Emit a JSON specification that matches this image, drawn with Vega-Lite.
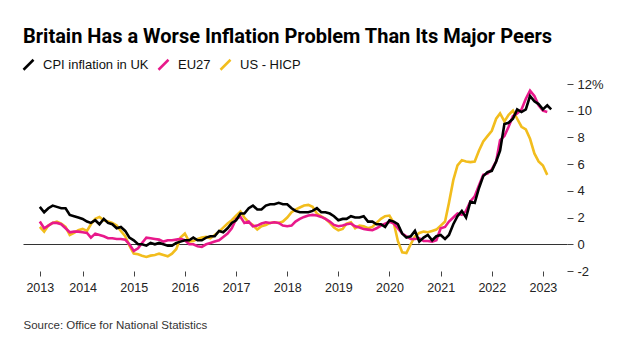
{
  "$schema": "https://vega.github.io/schema/vega-lite/v6.json",
  "width": 544,
  "height": 187,
  "autosize": {"type": "none"},
  "padding": {"left": 23, "top": 84, "right": 56, "bottom": 89},
  "background": "#ffffff",
  "title": {
    "text": "Britain Has a Worse Inflation Problem Than Its Major Peers",
    "anchor": "start",
    "frame": "group",
    "font": "Roboto",
    "fontSize": 20,
    "fontWeight": "bold",
    "color": "#000000",
    "offset": 11
  },
  "config": {
    "view": {"stroke": null},
    "font": "Liberation Sans"
  },
  "data": {
    "values": [
      {"month":"2013-03","series":"US","value":1.3},{"month":"2013-04","series":"US","value":0.95},{"month":"2013-05","series":"US","value":1.4},{"month":"2013-06","series":"US","value":1.6},{"month":"2013-07","series":"US","value":1.7},{"month":"2013-08","series":"US","value":1.55},{"month":"2013-09","series":"US","value":1.3},{"month":"2013-10","series":"US","value":0.7},{"month":"2013-11","series":"US","value":0.85},{"month":"2013-12","series":"US","value":1.05},
      {"month":"2014-01","series":"US","value":1.15},{"month":"2014-02","series":"US","value":1.0},{"month":"2014-03","series":"US","value":1.5},{"month":"2014-04","series":"US","value":1.9},{"month":"2014-05","series":"US","value":2.05},{"month":"2014-06","series":"US","value":1.8},{"month":"2014-07","series":"US","value":1.7},{"month":"2014-08","series":"US","value":1.6},{"month":"2014-09","series":"US","value":1.4},{"month":"2014-10","series":"US","value":1.0},{"month":"2014-11","series":"US","value":0.6},{"month":"2014-12","series":"US","value":-0.1},
      {"month":"2015-01","series":"US","value":-0.7},{"month":"2015-02","series":"US","value":-0.75},{"month":"2015-03","series":"US","value":-0.85},{"month":"2015-04","series":"US","value":-0.95},{"month":"2015-05","series":"US","value":-0.85},{"month":"2015-06","series":"US","value":-0.8},{"month":"2015-07","series":"US","value":-0.7},{"month":"2015-08","series":"US","value":-0.8},{"month":"2015-09","series":"US","value":-0.9},{"month":"2015-10","series":"US","value":-0.7},{"month":"2015-11","series":"US","value":-0.35},{"month":"2015-12","series":"US","value":0.5},
      {"month":"2016-01","series":"US","value":0.8},{"month":"2016-02","series":"US","value":0.2},{"month":"2016-03","series":"US","value":0.25},{"month":"2016-04","series":"US","value":0.4},{"month":"2016-05","series":"US","value":0.5},{"month":"2016-06","series":"US","value":0.55},{"month":"2016-07","series":"US","value":0.45},{"month":"2016-08","series":"US","value":0.7},{"month":"2016-09","series":"US","value":0.95},{"month":"2016-10","series":"US","value":1.25},{"month":"2016-11","series":"US","value":1.55},{"month":"2016-12","series":"US","value":1.8},
      {"month":"2017-01","series":"US","value":2.15},{"month":"2017-02","series":"US","value":2.45},{"month":"2017-03","series":"US","value":2.0},{"month":"2017-04","series":"US","value":1.65},{"month":"2017-05","series":"US","value":1.45},{"month":"2017-06","series":"US","value":1.1},{"month":"2017-07","series":"US","value":1.35},{"month":"2017-08","series":"US","value":1.45},{"month":"2017-09","series":"US","value":1.6},{"month":"2017-10","series":"US","value":1.65},{"month":"2017-11","series":"US","value":1.6},{"month":"2017-12","series":"US","value":1.7},
      {"month":"2018-01","series":"US","value":2.0},{"month":"2018-02","series":"US","value":2.4},{"month":"2018-03","series":"US","value":2.6},{"month":"2018-04","series":"US","value":2.75},{"month":"2018-05","series":"US","value":2.9},{"month":"2018-06","series":"US","value":2.95},{"month":"2018-07","series":"US","value":2.8},{"month":"2018-08","series":"US","value":2.3},{"month":"2018-09","series":"US","value":2.1},{"month":"2018-10","series":"US","value":1.9},{"month":"2018-11","series":"US","value":1.6},{"month":"2018-12","series":"US","value":1.25},
      {"month":"2019-01","series":"US","value":1.05},{"month":"2019-02","series":"US","value":1.15},{"month":"2019-03","series":"US","value":1.55},{"month":"2019-04","series":"US","value":1.65},{"month":"2019-05","series":"US","value":1.2},{"month":"2019-06","series":"US","value":1.4},{"month":"2019-07","series":"US","value":1.35},{"month":"2019-08","series":"US","value":1.2},{"month":"2019-09","series":"US","value":1.3},{"month":"2019-10","series":"US","value":1.6},{"month":"2019-11","series":"US","value":1.9},{"month":"2019-12","series":"US","value":2.1},
      {"month":"2020-01","series":"US","value":2.15},{"month":"2020-02","series":"US","value":1.6},{"month":"2020-03","series":"US","value":0.25},{"month":"2020-04","series":"US","value":-0.6},{"month":"2020-05","series":"US","value":-0.65},{"month":"2020-06","series":"US","value":0.0},{"month":"2020-07","series":"US","value":0.6},{"month":"2020-08","series":"US","value":0.85},{"month":"2020-09","series":"US","value":0.95},{"month":"2020-10","series":"US","value":0.9},{"month":"2020-11","series":"US","value":1.0},{"month":"2020-12","series":"US","value":1.1},
      {"month":"2021-01","series":"US","value":1.4},{"month":"2021-02","series":"US","value":1.7},{"month":"2021-03","series":"US","value":3.1},{"month":"2021-04","series":"US","value":4.8},{"month":"2021-05","series":"US","value":5.9},{"month":"2021-06","series":"US","value":6.3},{"month":"2021-07","series":"US","value":6.2},{"month":"2021-08","series":"US","value":6.15},{"month":"2021-09","series":"US","value":6.2},{"month":"2021-10","series":"US","value":7.0},{"month":"2021-11","series":"US","value":7.7},{"month":"2021-12","series":"US","value":8.1},
      {"month":"2022-01","series":"US","value":8.5},{"month":"2022-02","series":"US","value":9.4},{"month":"2022-03","series":"US","value":9.8},{"month":"2022-04","series":"US","value":9.2},{"month":"2022-05","series":"US","value":9.7},{"month":"2022-06","series":"US","value":10.0},{"month":"2022-07","series":"US","value":9.4},{"month":"2022-08","series":"US","value":8.8},{"month":"2022-09","series":"US","value":8.6},{"month":"2022-10","series":"US","value":7.9},{"month":"2022-11","series":"US","value":6.8},{"month":"2022-12","series":"US","value":6.2},
      {"month":"2023-01","series":"US","value":5.9},{"month":"2023-02","series":"US","value":5.2},

      {"month":"2013-03","series":"EU27","value":1.7},{"month":"2013-04","series":"EU27","value":1.2},{"month":"2013-05","series":"EU27","value":1.4},{"month":"2013-06","series":"EU27","value":1.6},{"month":"2013-07","series":"EU27","value":1.6},{"month":"2013-08","series":"EU27","value":1.5},{"month":"2013-09","series":"EU27","value":1.2},{"month":"2013-10","series":"EU27","value":0.9},{"month":"2013-11","series":"EU27","value":0.95},{"month":"2013-12","series":"EU27","value":0.95},
      {"month":"2014-01","series":"EU27","value":0.9},{"month":"2014-02","series":"EU27","value":0.85},{"month":"2014-03","series":"EU27","value":0.5},{"month":"2014-04","series":"EU27","value":0.8},{"month":"2014-05","series":"EU27","value":0.7},{"month":"2014-06","series":"EU27","value":0.6},{"month":"2014-07","series":"EU27","value":0.45},{"month":"2014-08","series":"EU27","value":0.45},{"month":"2014-09","series":"EU27","value":0.4},{"month":"2014-10","series":"EU27","value":0.4},{"month":"2014-11","series":"EU27","value":0.35},{"month":"2014-12","series":"EU27","value":0.0},
      {"month":"2015-01","series":"EU27","value":-0.5},{"month":"2015-02","series":"EU27","value":-0.3},{"month":"2015-03","series":"EU27","value":0.1},{"month":"2015-04","series":"EU27","value":0.5},{"month":"2015-05","series":"EU27","value":0.45},{"month":"2015-06","series":"EU27","value":0.4},{"month":"2015-07","series":"EU27","value":0.35},{"month":"2015-08","series":"EU27","value":0.2},{"month":"2015-09","series":"EU27","value":0.3},{"month":"2015-10","series":"EU27","value":0.3},{"month":"2015-11","series":"EU27","value":0.35},{"month":"2015-12","series":"EU27","value":0.4},
      {"month":"2016-01","series":"EU27","value":0.3},{"month":"2016-02","series":"EU27","value":0.0},{"month":"2016-03","series":"EU27","value":0.0},{"month":"2016-04","series":"EU27","value":-0.15},{"month":"2016-05","series":"EU27","value":-0.2},{"month":"2016-06","series":"EU27","value":0.0},{"month":"2016-07","series":"EU27","value":0.1},{"month":"2016-08","series":"EU27","value":0.2},{"month":"2016-09","series":"EU27","value":0.3},{"month":"2016-10","series":"EU27","value":0.55},{"month":"2016-11","series":"EU27","value":0.8},{"month":"2016-12","series":"EU27","value":1.2},
      {"month":"2017-01","series":"EU27","value":1.9},{"month":"2017-02","series":"EU27","value":2.05},{"month":"2017-03","series":"EU27","value":1.6},{"month":"2017-04","series":"EU27","value":1.7},{"month":"2017-05","series":"EU27","value":1.35},{"month":"2017-06","series":"EU27","value":1.4},{"month":"2017-07","series":"EU27","value":1.55},{"month":"2017-08","series":"EU27","value":1.65},{"month":"2017-09","series":"EU27","value":1.6},{"month":"2017-10","series":"EU27","value":1.65},{"month":"2017-11","series":"EU27","value":1.6},{"month":"2017-12","series":"EU27","value":1.4},
      {"month":"2018-01","series":"EU27","value":1.35},{"month":"2018-02","series":"EU27","value":1.4},{"month":"2018-03","series":"EU27","value":1.7},{"month":"2018-04","series":"EU27","value":1.9},{"month":"2018-05","series":"EU27","value":2.05},{"month":"2018-06","series":"EU27","value":2.15},{"month":"2018-07","series":"EU27","value":2.2},{"month":"2018-08","series":"EU27","value":2.15},{"month":"2018-09","series":"EU27","value":2.05},{"month":"2018-10","series":"EU27","value":1.9},{"month":"2018-11","series":"EU27","value":1.7},{"month":"2018-12","series":"EU27","value":1.45},
      {"month":"2019-01","series":"EU27","value":1.35},{"month":"2019-02","series":"EU27","value":1.4},{"month":"2019-03","series":"EU27","value":1.5},{"month":"2019-04","series":"EU27","value":1.55},{"month":"2019-05","series":"EU27","value":1.35},{"month":"2019-06","series":"EU27","value":1.25},{"month":"2019-07","series":"EU27","value":1.15},{"month":"2019-08","series":"EU27","value":1.1},{"month":"2019-09","series":"EU27","value":1.05},{"month":"2019-10","series":"EU27","value":1.2},{"month":"2019-11","series":"EU27","value":1.4},{"month":"2019-12","series":"EU27","value":1.55},
      {"month":"2020-01","series":"EU27","value":1.7},{"month":"2020-02","series":"EU27","value":1.55},{"month":"2020-03","series":"EU27","value":1.2},{"month":"2020-04","series":"EU27","value":0.8},{"month":"2020-05","series":"EU27","value":0.6},{"month":"2020-06","series":"EU27","value":0.4},{"month":"2020-07","series":"EU27","value":0.4},{"month":"2020-08","series":"EU27","value":0.45},{"month":"2020-09","series":"EU27","value":0.25},{"month":"2020-10","series":"EU27","value":0.25},{"month":"2020-11","series":"EU27","value":0.2},{"month":"2020-12","series":"EU27","value":0.3},
      {"month":"2021-01","series":"EU27","value":1.2},{"month":"2021-02","series":"EU27","value":1.3},{"month":"2021-03","series":"EU27","value":1.7},{"month":"2021-04","series":"EU27","value":2.0},{"month":"2021-05","series":"EU27","value":2.3},{"month":"2021-06","series":"EU27","value":2.2},{"month":"2021-07","series":"EU27","value":2.5},{"month":"2021-08","series":"EU27","value":3.2},{"month":"2021-09","series":"EU27","value":3.6},{"month":"2021-10","series":"EU27","value":4.4},{"month":"2021-11","series":"EU27","value":5.2},{"month":"2021-12","series":"EU27","value":5.3},
      {"month":"2022-01","series":"EU27","value":5.6},{"month":"2022-02","series":"EU27","value":6.2},{"month":"2022-03","series":"EU27","value":7.8},{"month":"2022-04","series":"EU27","value":8.1},{"month":"2022-05","series":"EU27","value":8.8},{"month":"2022-06","series":"EU27","value":9.6},{"month":"2022-07","series":"EU27","value":9.8},{"month":"2022-08","series":"EU27","value":10.1},{"month":"2022-09","series":"EU27","value":10.9},{"month":"2022-10","series":"EU27","value":11.5},{"month":"2022-11","series":"EU27","value":11.1},{"month":"2022-12","series":"EU27","value":10.4},
      {"month":"2023-01","series":"EU27","value":10.0},{"month":"2023-02","series":"EU27","value":9.9},

      {"month":"2013-03","series":"UK","value":2.8},{"month":"2013-04","series":"UK","value":2.4},{"month":"2013-05","series":"UK","value":2.7},{"month":"2013-06","series":"UK","value":2.9},{"month":"2013-07","series":"UK","value":2.8},{"month":"2013-08","series":"UK","value":2.7},{"month":"2013-09","series":"UK","value":2.7},{"month":"2013-10","series":"UK","value":2.2},{"month":"2013-11","series":"UK","value":2.1},{"month":"2013-12","series":"UK","value":2.0},
      {"month":"2014-01","series":"UK","value":1.9},{"month":"2014-02","series":"UK","value":1.7},{"month":"2014-03","series":"UK","value":1.6},{"month":"2014-04","series":"UK","value":1.8},{"month":"2014-05","series":"UK","value":1.5},{"month":"2014-06","series":"UK","value":1.9},{"month":"2014-07","series":"UK","value":1.6},{"month":"2014-08","series":"UK","value":1.5},{"month":"2014-09","series":"UK","value":1.2},{"month":"2014-10","series":"UK","value":1.3},{"month":"2014-11","series":"UK","value":1.0},{"month":"2014-12","series":"UK","value":0.5},
      {"month":"2015-01","series":"UK","value":0.3},{"month":"2015-02","series":"UK","value":0.0},{"month":"2015-03","series":"UK","value":0.0},{"month":"2015-04","series":"UK","value":-0.1},{"month":"2015-05","series":"UK","value":0.1},{"month":"2015-06","series":"UK","value":0.0},{"month":"2015-07","series":"UK","value":0.1},{"month":"2015-08","series":"UK","value":0.0},{"month":"2015-09","series":"UK","value":-0.1},{"month":"2015-10","series":"UK","value":-0.1},{"month":"2015-11","series":"UK","value":0.1},{"month":"2015-12","series":"UK","value":0.2},
      {"month":"2016-01","series":"UK","value":0.3},{"month":"2016-02","series":"UK","value":0.3},{"month":"2016-03","series":"UK","value":0.5},{"month":"2016-04","series":"UK","value":0.3},{"month":"2016-05","series":"UK","value":0.3},{"month":"2016-06","series":"UK","value":0.5},{"month":"2016-07","series":"UK","value":0.6},{"month":"2016-08","series":"UK","value":0.6},{"month":"2016-09","series":"UK","value":1.0},{"month":"2016-10","series":"UK","value":0.9},{"month":"2016-11","series":"UK","value":1.2},{"month":"2016-12","series":"UK","value":1.6},
      {"month":"2017-01","series":"UK","value":1.8},{"month":"2017-02","series":"UK","value":2.3},{"month":"2017-03","series":"UK","value":2.3},{"month":"2017-04","series":"UK","value":2.7},{"month":"2017-05","series":"UK","value":2.9},{"month":"2017-06","series":"UK","value":2.6},{"month":"2017-07","series":"UK","value":2.6},{"month":"2017-08","series":"UK","value":2.9},{"month":"2017-09","series":"UK","value":3.0},{"month":"2017-10","series":"UK","value":3.0},{"month":"2017-11","series":"UK","value":3.1},{"month":"2017-12","series":"UK","value":3.0},
      {"month":"2018-01","series":"UK","value":3.0},{"month":"2018-02","series":"UK","value":2.7},{"month":"2018-03","series":"UK","value":2.5},{"month":"2018-04","series":"UK","value":2.4},{"month":"2018-05","series":"UK","value":2.4},{"month":"2018-06","series":"UK","value":2.4},{"month":"2018-07","series":"UK","value":2.5},{"month":"2018-08","series":"UK","value":2.7},{"month":"2018-09","series":"UK","value":2.4},{"month":"2018-10","series":"UK","value":2.4},{"month":"2018-11","series":"UK","value":2.3},{"month":"2018-12","series":"UK","value":2.1},
      {"month":"2019-01","series":"UK","value":1.8},{"month":"2019-02","series":"UK","value":1.9},{"month":"2019-03","series":"UK","value":1.9},{"month":"2019-04","series":"UK","value":2.1},{"month":"2019-05","series":"UK","value":2.0},{"month":"2019-06","series":"UK","value":2.0},{"month":"2019-07","series":"UK","value":2.1},{"month":"2019-08","series":"UK","value":1.7},{"month":"2019-09","series":"UK","value":1.7},{"month":"2019-10","series":"UK","value":1.5},{"month":"2019-11","series":"UK","value":1.5},{"month":"2019-12","series":"UK","value":1.3},
      {"month":"2020-01","series":"UK","value":1.8},{"month":"2020-02","series":"UK","value":1.7},{"month":"2020-03","series":"UK","value":1.5},{"month":"2020-04","series":"UK","value":0.8},{"month":"2020-05","series":"UK","value":0.5},{"month":"2020-06","series":"UK","value":0.6},{"month":"2020-07","series":"UK","value":1.0},{"month":"2020-08","series":"UK","value":0.2},{"month":"2020-09","series":"UK","value":0.5},{"month":"2020-10","series":"UK","value":0.7},{"month":"2020-11","series":"UK","value":0.3},{"month":"2020-12","series":"UK","value":0.6},
      {"month":"2021-01","series":"UK","value":0.7},{"month":"2021-02","series":"UK","value":0.4},{"month":"2021-03","series":"UK","value":0.7},{"month":"2021-04","series":"UK","value":1.5},{"month":"2021-05","series":"UK","value":2.1},{"month":"2021-06","series":"UK","value":2.5},{"month":"2021-07","series":"UK","value":2.0},{"month":"2021-08","series":"UK","value":3.2},{"month":"2021-09","series":"UK","value":3.1},{"month":"2021-10","series":"UK","value":4.2},{"month":"2021-11","series":"UK","value":5.1},{"month":"2021-12","series":"UK","value":5.4},
      {"month":"2022-01","series":"UK","value":5.5},{"month":"2022-02","series":"UK","value":6.2},{"month":"2022-03","series":"UK","value":7.0},{"month":"2022-04","series":"UK","value":9.0},{"month":"2022-05","series":"UK","value":9.1},{"month":"2022-06","series":"UK","value":9.4},{"month":"2022-07","series":"UK","value":10.1},{"month":"2022-08","series":"UK","value":9.9},{"month":"2022-09","series":"UK","value":10.1},{"month":"2022-10","series":"UK","value":11.1},{"month":"2022-11","series":"UK","value":10.7},{"month":"2022-12","series":"UK","value":10.5},
      {"month":"2023-01","series":"UK","value":10.1},{"month":"2023-02","series":"UK","value":10.4},{"month":"2023-03","series":"UK","value":10.1}
    ]
  },
  "encoding": {
    "x": {
      "field": "month",
      "type": "temporal",
      "scale": {
        "type": "utc",
        "domain": [
          {"year": 2012, "month": 11, "date": 1, "utc": true},
          {"year": 2023, "month": 6, "date": 22, "utc": true}
        ]
      },
      "axis": {
        "values": [
          {"year": 2013, "month": 3, "date": 1, "utc": true},
          {"year": 2014, "month": 1, "date": 1, "utc": true},
          {"year": 2015, "month": 1, "date": 1, "utc": true},
          {"year": 2016, "month": 1, "date": 1, "utc": true},
          {"year": 2017, "month": 1, "date": 1, "utc": true},
          {"year": 2018, "month": 1, "date": 1, "utc": true},
          {"year": 2019, "month": 1, "date": 1, "utc": true},
          {"year": 2020, "month": 1, "date": 1, "utc": true},
          {"year": 2021, "month": 1, "date": 1, "utc": true},
          {"year": 2022, "month": 1, "date": 1, "utc": true},
          {"year": 2023, "month": 1, "date": 1, "utc": true}
        ],
        "labelExpr": "utcFormat(datum.value, '%Y')",
        "domain": false,
        "grid": false,
        "tickSize": 5,
        "tickColor": "#444444",
        "tickWidth": 1,
        "labelFontSize": 12.5,
        "labelColor": "#222222",
        "labelPadding": 5,
        "labelFlush": false,
        "labelOverlap": false,
        "title": "Source: Office for National Statistics",
        "titleAnchor": "start",
        "titleAlign": "left",
        "titleX": 0,
        "titleY": 54,
        "titleBaseline": "middle",
        "titleFontSize": 11.5,
        "titleFontWeight": "normal",
        "titleColor": "#333333"
      }
    },
    "y": {
      "field": "value",
      "type": "quantitative",
      "scale": {"domain": [-2, 12], "nice": false, "zero": false},
      "axis": {
        "orient": "right",
        "values": [-2, 0, 2, 4, 6, 8, 10, 12],
        "domain": false,
        "grid": true,
        "gridColor": "#333333",
        "gridWidth": 1,
        "gridOpacity": {"condition": {"test": "datum.value === 0", "value": 1}, "value": 0},
        "tickSize": 6,
        "tickColor": "#444444",
        "labelFontSize": 13,
        "labelColor": "#222222",
        "labelPadding": 4,
        "labelExpr": "datum.value === 12 ? '12%' : (datum.value < 0 ? '-' + abs(datum.value) : '' + datum.value)",
        "title": null
      }
    },
    "color": {
      "field": "series",
      "type": "nominal",
      "scale": {
        "domain": ["UK", "EU27", "US"],
        "range": ["#000000", "#e8198b", "#f2bd1d"]
      },
      "legend": {
        "orient": "none",
        "legendX": -1,
        "legendY": -26,
        "direction": "horizontal",
        "title": null,
        "symbolType": "M-1,1L1,-1",
        "symbolSize": 100,
        "symbolStrokeWidth": 2.5,
        "labelFontSize": 13,
        "labelColor": "#111111",
        "labelOffset": 8,
        "columnPadding": 4,
        "labelExpr": "datum.label === 'UK' ? 'CPI inflation in UK' : (datum.label === 'US' ? 'US - HICP' : datum.label)"
      }
    }
  },
  "layer": [
    {
      "transform": [{"filter": "datum.series === 'US'"}],
      "mark": {"type": "line", "strokeWidth": 2.6}
    },
    {
      "transform": [{"filter": "datum.series === 'EU27'"}],
      "mark": {"type": "line", "strokeWidth": 2.6}
    },
    {
      "transform": [{"filter": "datum.series === 'UK'"}],
      "mark": {"type": "line", "strokeWidth": 2.6}
    }
  ]
}
